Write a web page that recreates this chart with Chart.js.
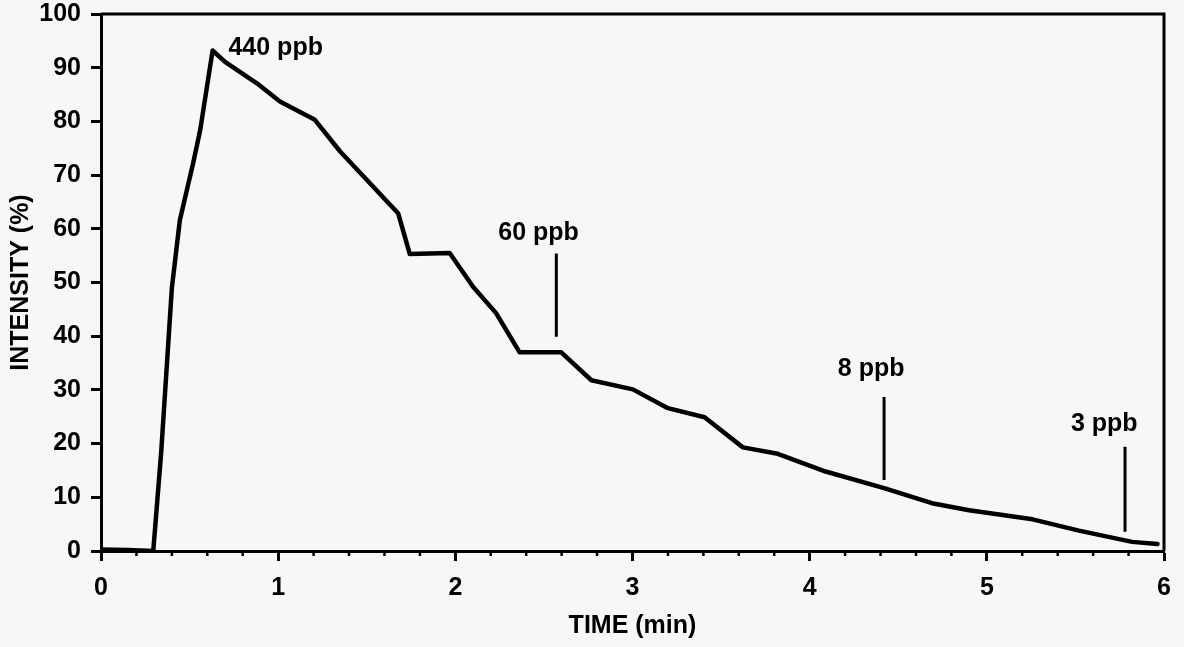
<!DOCTYPE html>
<html>
<head>
<meta charset="utf-8">
<script src="https://cdn.jsdelivr.net/npm/chart.js@4.4.1/dist/chart.umd.min.js"></script>
<style>
  html, body { margin: 0; padding: 0; background: #f7f7f7; }
  #wrap { width: 1184px; height: 647px; position: relative; }
</style>
</head>
<body>
<div id="wrap"><canvas id="c"></canvas></div>
<script>
// ---- data ----
const timeMin = [0, 0.15, 0.295, 0.34, 0.40, 0.445, 0.52, 0.56, 0.63, 0.70, 0.88, 1.01, 1.207, 1.35, 1.677, 1.743, 1.968, 2.10, 2.23, 2.363, 2.598, 2.768, 3.002, 3.20, 3.407, 3.623, 3.82, 4.09, 4.42, 4.69, 4.90, 5.258, 5.52, 5.82, 5.963];
const intensity = [0.3, 0.2, 0, 18.5, 49, 61.6, 72.2, 78.4, 93.2, 91.1, 87.1, 83.7, 80.3, 74.4, 62.9, 55.3, 55.5, 49.2, 44.3, 37.0, 37.0, 31.8, 30.1, 26.6, 24.9, 19.3, 18.1, 14.8, 11.7, 8.9, 7.6, 5.9, 3.8, 1.7, 1.3];

const annLabels = ['440 ppb', '60 ppb', '8 ppb', '3 ppb'];
const annLabelX = [0.986, 2.47, 4.347, 5.663];
const annLabelY = [93.6, 59.2, 33.9, 23.6];

const markerX = [2.57, 4.42, 5.78];
const markerTop = [55.4, 28.7, 19.4];
const markerBottom = [39.9, 13.2, 3.6];

const xTickMin = 0, xTickMax = 6, xMinorStep = 0.2;
const yTickMin = 0, yTickMax = 100, yStep = 10;
const xTitle = 'TIME (min)';
const yTitle = 'INTENSITY (%)';

const FONT = '"Liberation Sans", Arial, Helvetica, sans-serif';
const FONT_SIZE = 25;
const FONT_WEIGHT = 'bold';

const datasets = [{
  data: timeMin.map((t, i) => ({x: t, y: intensity[i]})),
  borderColor: '#000',
  borderWidth: 4.5,
  pointRadius: 0,
  tension: 0,
  borderJoinStyle: 'round',
  borderCapStyle: 'round'
}];
markerX.forEach((mx, i) => {
  datasets.push({
    data: [{x: mx, y: markerTop[i]}, {x: mx, y: markerBottom[i]}],
    borderColor: '#000',
    borderWidth: 3,
    pointRadius: 0
  });
});

const decoPlugin = {
  id: 'deco',
  beforeDraw(chart) {
    const ctx = chart.ctx;
    ctx.save();
    ctx.fillStyle = '#f7f7f7';
    ctx.fillRect(0, 0, chart.width, chart.height);
    ctx.restore();
  },
  afterDraw(chart) {
    const ctx = chart.ctx;
    const xs = chart.scales.x, ys = chart.scales.y;
    const a = chart.chartArea;
    ctx.save();
    // frame top/right
    ctx.strokeStyle = '#000';
    ctx.lineWidth = 3;
    ctx.beginPath();
    ctx.moveTo(a.left, a.top);
    ctx.lineTo(a.right, a.top);
    ctx.lineTo(a.right, a.bottom);
    ctx.stroke();
    // minor x ticks
    ctx.lineWidth = 2.5;
    xs.ticks.forEach(t => {
      const v = t.value;
      if (Math.abs(v - Math.round(v)) > 1e-6) {
        const px = xs.getPixelForValue(v);
        ctx.beginPath();
        ctx.moveTo(px, a.bottom);
        ctx.lineTo(px, a.bottom + 5);
        ctx.stroke();
      }
    });
    // annotation labels
    ctx.fillStyle = '#000';
    ctx.font = FONT_WEIGHT + ' ' + FONT_SIZE + 'px ' + FONT;
    ctx.textAlign = 'center';
    ctx.textBaseline = 'middle';
    annLabels.forEach((s, i) => {
      ctx.fillText(s, xs.getPixelForValue(annLabelX[i]), ys.getPixelForValue(annLabelY[i]));
    });
    ctx.restore();
  }
};

const axisFont = { family: FONT, size: FONT_SIZE, weight: FONT_WEIGHT };

new Chart(document.getElementById('c'), {
  type: 'line',
  data: { datasets },
  plugins: [decoPlugin],
  options: {
    responsive: true,
    maintainAspectRatio: false,
    animation: false,
    layout: { padding: { left: 0, right: 20, top: 14, bottom: 0 } },
    plugins: { legend: { display: false }, tooltip: { enabled: false } },
    scales: {
      x: {
        type: 'linear',
        min: xTickMin, max: xTickMax,
        afterFit(s) { s.height = 96; },
        border: { display: true, width: 3, color: '#000' },
        grid: {
          drawOnChartArea: false,
          tickLength: 10,
          tickWidth: 3,
          tickColor: ctx => (Math.abs(ctx.tick.value - Math.round(ctx.tick.value)) < 1e-6 ? '#000' : 'rgba(0,0,0,0)')
        },
        ticks: {
          stepSize: xMinorStep,
          autoSkip: false,
          maxRotation: 0,
          padding: 12,
          color: '#000',
          font: axisFont,
          callback: v => (Math.abs(v - Math.round(v)) < 1e-6 ? String(Math.round(v)) : '')
        },
        title: {
          display: true, text: xTitle, color: '#000',
          font: axisFont,
          padding: { top: 0, bottom: 6 }
        }
      },
      y: {
        min: yTickMin, max: yTickMax,
        afterFit(s) { s.width = 101; s.paddingTop = 0; s.paddingBottom = 0; },
        border: { display: true, width: 3, color: '#000' },
        grid: { drawOnChartArea: false, tickLength: 10, tickWidth: 3, tickColor: '#000' },
        ticks: {
          stepSize: yStep,
          padding: 10,
          color: '#000',
          font: axisFont
        },
        title: {
          display: true, text: yTitle, color: '#000',
          font: axisFont,
          padding: { top: 6, bottom: 0 }
        }
      }
    }
  }
});
</script>
</body>
</html>
